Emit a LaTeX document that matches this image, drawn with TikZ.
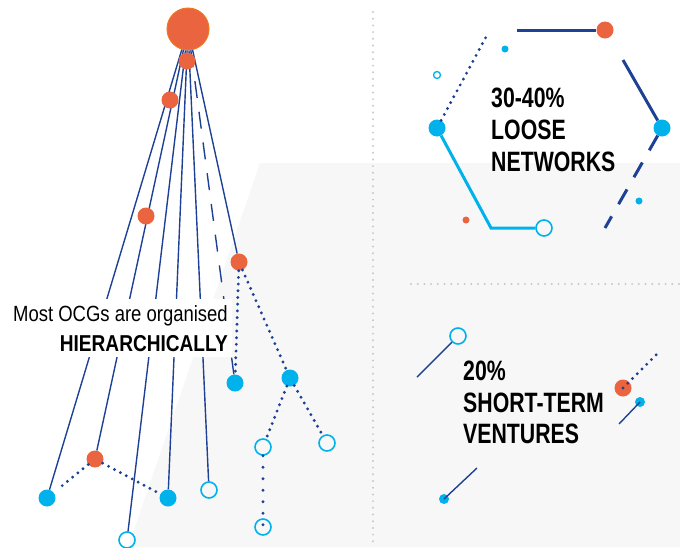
\documentclass[tikz,border=0pt]{standalone}
\usepackage{fontspec}
\setmainfont{Liberation Sans}
\newfontfamily\ocgfont[FakeStretch=0.84,BoldFeatures={FakeStretch=0.76}]{Liberation Sans}
\newfontfamily\ocgwide[FakeStretch=0.83]{Liberation Sans Bold}
\usetikzlibrary{calc}

\definecolor{ocgorange}{RGB}{234,100,64}
\definecolor{ocgrim}{RGB}{240,120,30}
\definecolor{ocgcyan}{RGB}{0,178,236}
\definecolor{ocgblue}{RGB}{30,65,150}
\definecolor{ocgpanel}{RGB}{247,247,247}
\definecolor{ocgrule}{RGB}{200,200,200}

\tikzset{
  orgdot/.style={circle, fill=ocgorange, inner sep=0pt, minimum size=17pt},
  bluedot/.style={circle, fill=ocgcyan, inner sep=0pt, minimum size=17pt},
  hollow/.style={circle, draw=ocgcyan, line width=1.6pt, inner sep=0pt, minimum size=16pt},
  branch/.style={draw=ocgblue, line width=1.4pt},
  dotline/.style={draw=ocgblue, line width=3.2pt, line cap=round, dash pattern=on 0pt off 6.7pt},
  hexline/.style={draw=ocgblue, line width=3pt},
  rule/.style={draw=ocgrule, line width=2.2pt, line cap=round, dash pattern=on 0pt off 6.7pt},
  bigtext/.style={font=\ocgfont\bfseries\fontsize{28}{32}\selectfont, align=left, anchor=north west, inner sep=0pt},
}

\begin{document}
\begin{tikzpicture}[x=1pt, y=-1pt]
\useasboundingbox (0,0) rectangle (680,547);
% panel and dividers
\fill[ocgpanel] (260,163) -- (680,163) -- (680,547) -- (128,547) -- cycle;
\draw[rule] (373,12) -- (373,547);
\draw[rule] (411,284) -- (680,284);

% hierarchy
\node[orgdot, draw=ocgrim, line width=1pt, minimum size=42pt] (top) at (188,29) {};
\node[bluedot] (c1) at (47,498) {};
\node[orgdot] (o5) at (95,459) {};
\node[hollow] (h1) at (127,540) {};
\node[bluedot] (c2) at (168,498) {};
\node[hollow] (h2) at (209,490) {};
\node[bluedot] (c3) at (235,383) {};
\node[orgdot] (o4) at (239,262) {};
\node[bluedot] (c4) at (290,378) {};
\node[hollow] (h3) at (263,447) {};
\node[hollow] (h4) at (327,443) {};
\node[hollow] (h5) at (263,527) {};

\foreach \leaf in {c1,o5,h1,c2,h2,o4}
  \draw[branch] (top) -- (\leaf);
\draw[branch, dash pattern=on 17pt off 14pt] (top) -- (c3);

\draw[dotline, shorten >=7pt] (o5) -- (c1);
\draw[dotline, shorten >=5pt] (o5) -- (c2);
\draw[dotline] (o4) -- (c3);
\draw[dotline] (o4) -- (c4);
\draw[dotline] (c4) -- (h3);
\draw[dotline] (c4) -- (h4);
\draw[dotline, dash pattern=on 0pt off 11.5pt] (h3) -- (h5.center);

\node[orgdot] (o1) at (187,61) {};
\node[orgdot] (o2) at (170,100) {};
\node[orgdot] (o3) at (146,216) {};

\node[fill=white, inner xsep=4pt, inner ysep=6pt, align=right, anchor=north east,
  font=\ocgfont\fontsize{22}{30}\selectfont] (hierlabel) at (232,299)
  {Most OCGs are organised\\{\ocgwide\fontsize{23}{30}\selectfont HIERARCHICALLY}};

% loose networks
\node[orgdot] (hexo) at (605,30) {};
\coordinate (hexa) at (517,30);
\draw[hexline] (hexa) -- (hexo);
\node[bluedot] (hexc) at (662,128) {};
\coordinate (hexb) at (623,60);
\draw[hexline] (hexb) -- (hexc);
\coordinate (hexd) at (605,228);
\draw[hexline, dash pattern=on 17pt off 14pt] (hexc) -- (hexd);
\node[bluedot] (hexl) at (437,128) {};
\coordinate (hexm) at (491,228);
\node[hollow] (hexh) at (544,228) {};
\draw[draw=ocgcyan, line width=3pt] (hexl) -- (hexm) -- (hexh);
\coordinate (hext) at (486,37);
\draw[dotline] (hexl) -- (hext);
\node[bluedot, minimum size=7pt] (spark1) at (505,49) {};
\node[hollow, minimum size=7pt, line width=1.3pt] (spark2) at (437,75) {};
\node[orgdot, minimum size=7pt] (spark3) at (466,220) {};
\node[bluedot, minimum size=7pt] (spark4) at (639,201) {};
\node[bigtext] (loose) at (491,88) {30-40\%\\LOOSE\\NETWORKS};

% short-term ventures
\node[hollow] (stA) at (458,336) {};
\coordinate (stAend) at (417,377);
\draw[branch] (stAend) -- (stA);
\node[bluedot, minimum size=10pt] (stB) at (444,499) {};
\coordinate (stBend) at (477,468);
\draw[branch] (stB.center) -- (stBend);
\node[orgdot] (stC) at (623,388) {};
\coordinate (stCend) at (658,353);
\draw[dotline] (stC.center) -- (stCend);
\node[bluedot, minimum size=10pt] (stD) at (640,402) {};
\coordinate (stDend) at (619,424);
\draw[branch] (stDend) -- (stD.center);
\node[bigtext, font=\ocgfont\bfseries\fontsize{28}{31.5}\selectfont] (short) at (463,361) {20\%\\SHORT-TERM\\VENTURES};
\end{tikzpicture}
\end{document}
